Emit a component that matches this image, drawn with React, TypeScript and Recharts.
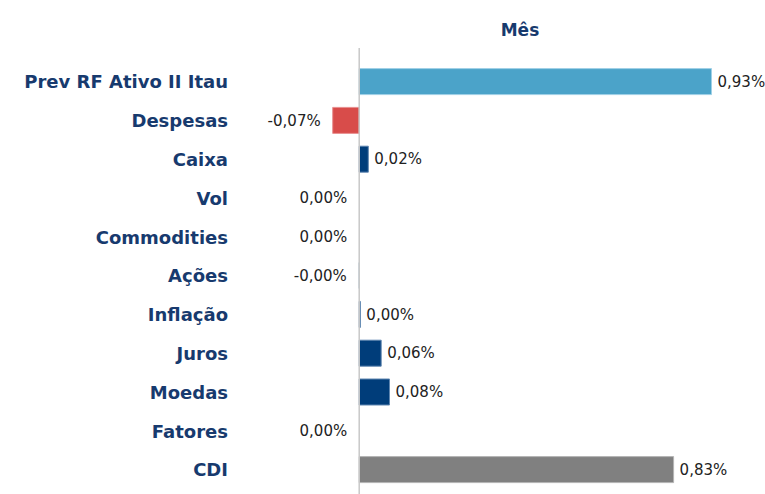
import React from "react";
import { BarChart, Bar, XAxis, YAxis, Cell, LabelList, ReferenceLine } from "recharts";

const categories = [
  "Prev RF Ativo II Itau",
  "Despesas",
  "Caixa",
  "Vol",
  "Commodities",
  "Ações",
  "Inflação",
  "Juros",
  "Moedas",
  "Fatores",
  "CDI",
];
const values = [0.93, -0.07, 0.024, 0, 0, -0.001, 0.003, 0.058, 0.08, 0, 0.83];
const colors = [
  "#4BA3C9",
  "#D84C4A",
  "#003D7A",
  "#003D7A",
  "#003D7A",
  "#003D7A",
  "#003D7A",
  "#003D7A",
  "#003D7A",
  "#003D7A",
  "#808080",
];
const strokes = [
  "#9FD0E6",
  "#E89090",
  "#5F86B0",
  "#5F86B0",
  "#5F86B0",
  "#5F86B0",
  "#5F86B0",
  "#5F86B0",
  "#5F86B0",
  "#5F86B0",
  "#B4B4B4",
];
const title = "Mês";

const data = categories.map((name, i) => ({ name, value: values[i] }));

const fmt = (v: number) => v.toFixed(2).replace(".", ",") + "%";

const ValueLabel = (props: any) => {
  const { x, y, width, height, value } = props;
  const left = Math.min(x, x + width);
  const right = Math.max(x, x + width);
  const pos = value > 0;
  return (
    <text
      x={pos ? right + 6 : left - 12}
      y={y + height / 2}
      dy="0.35em"
      textAnchor={pos ? "start" : "end"}
      fontFamily="DejaVu Sans, Verdana, sans-serif"
      fontSize={15}
      fill="#222"
    >
      {fmt(value)}
    </text>
  );
};

const CatTick = (props: any) => {
  const { x, y, payload } = props;
  return (
    <text
      x={x}
      y={y}
      dy="0.35em"
      textAnchor="end"
      fontFamily="DejaVu Sans, Verdana, sans-serif"
      fontWeight="bold"
      fontSize={18}
      fill="#173A6E"
    >
      {payload.value}
    </text>
  );
};

export default function App() {
  return (
    <div style={{ position: "absolute", left: 0, top: 0, width: 765, height: 494, background: "#fff" }}>
      <div
        style={{
          position: "absolute",
          left: 420,
          width: 200,
          top: 20,
          textAlign: "center",
          fontFamily: "DejaVu Sans, Verdana, sans-serif",
          fontWeight: "bold",
          fontSize: 17,
          color: "#173A6E",
        }}
      >
        {title}
      </div>
      <BarChart
        width={765}
        height={494}
        data={data}
        layout="vertical"
        margin={{ top: 48, right: 27, bottom: 0, left: 0 }}
        barSize={26}
      >
        <XAxis type="number" domain={[-0.32, 1.0]} hide />
        <YAxis
          type="category"
          dataKey="name"
          width={238}
          axisLine={false}
          tickLine={false}
          tickSize={0}
          tickMargin={10}
          tick={<CatTick />}
          interval={0}
          padding={{ top: 14.6, bottom: 4.6 }}
        />
        <ReferenceLine x={0} stroke="#C8C8C8" strokeWidth={1.5} ifOverflow="extendDomain" />
        <Bar
          dataKey="value"
          isAnimationActive={false}
          minPointSize={(v: number) => (v === 0 ? 0.01 : 0)}
        >
          {data.map((d, i) => (
            <Cell
              key={d.name}
              fill={colors[i]}
              stroke={Math.abs(d.value) >= 0.002 ? strokes[i] : "none"}
              strokeWidth={1}
            />
          ))}
          <LabelList dataKey="value" content={<ValueLabel />} />
        </Bar>
      </BarChart>
    </div>
  );
}
